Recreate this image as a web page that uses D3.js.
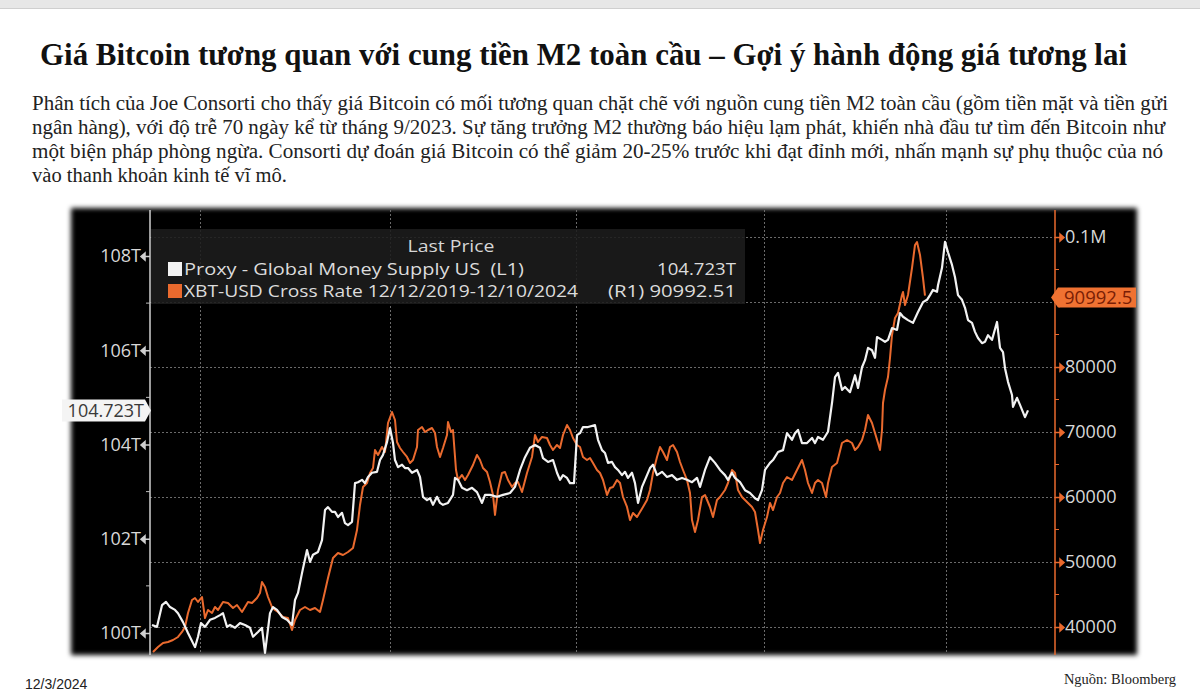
<!DOCTYPE html>
<html><head><meta charset="utf-8">
<script src="https://cdn.jsdelivr.net/npm/d3@7"></script>
<style>
html,body{margin:0;padding:0;background:#fff;}
svg{display:block;}
</style></head><body>
<svg id="c" width="1200" height="696"></svg>
<script>
// ---------- text ----------
const titleText = "Giá Bitcoin tương quan với cung tiền M2 toàn cầu – Gợi ý hành động giá tương lai";
const paragraphLines = [
  "Phân tích của Joe Consorti cho thấy giá Bitcoin có mối tương quan chặt chẽ với nguồn cung tiền M2 toàn cầu (gồm tiền mặt và tiền gửi",
  "ngân hàng), với độ trễ 70 ngày kể từ tháng 9/2023. Sự tăng trưởng M2 thường báo hiệu lạm phát, khiến nhà đầu tư tìm đến Bitcoin như",
  "một biện pháp phòng ngừa. Consorti dự đoán giá Bitcoin có thể giảm 20-25% trước khi đạt đỉnh mới, nhấn mạnh sự phụ thuộc của nó",
  "vào thanh khoản kinh tế vĩ mô."
];
const dateText = "12/3/2024";
const sourceText = "Nguồn: Bloomberg";
const legendTitle = "Last Price";
const seriesNames = ["Proxy - Global Money Supply US  (L1)", "XBT-USD Cross Rate 12/12/2019-12/10/2024"];
const seriesTags = ["", "(R1)"];

// ---------- axes ----------
const leftTicks = [100, 102, 104, 106, 108];
const leftMinor = [101, 103, 105, 107];
const rightTicks = [40000, 50000, 60000, 70000, 80000, 90000, 100000];
const rightLabelled = [40000, 50000, 60000, 70000, 80000, 100000];
const rightMinor = [45000, 55000, 65000, 75000, 85000, 95000];
const gridDays = [25, 120, 213, 307, 398];

// ---------- series: [day, value] ----------
const m2Series = [[1,100.17],[3.5,100.13],[6,100.59],[8,100.66],[10,100.55],[12.5,100.49],[14,100.42],[16.5,100.23],[19,100.00],[22.5,99.70],[24,99.92],[25.5,100.21],[27.5,100.13],[30,100.28],[32.5,100.32],[35,100.38],[36.5,100.42],[38.5,100.13],[40,100.17],[42.5,100.11],[45,100.21],[47.5,100.17],[50,100.11],[51.5,99.92],[54,100.02],[56,100.11],[57.5,99.58],[60,100.42],[61.5,100.55],[63.5,100.49],[66,100.34],[68.5,100.28],[71,100.17],[72.5,100.70],[74,100.85],[76,101.27],[78.5,101.76],[80,101.51],[81.5,101.66],[84,101.72],[86,101.97],[87.5,102.61],[89,102.67],[91,102.57],[92.5,102.57],[94,102.46],[96,102.55],[97.5,102.33],[99,102.29],[101,102.36],[102.5,103.18],[104,103.20],[106,103.25],[107.5,103.18],[109,103.31],[111,103.40],[113.5,103.42],[115,103.67],[116.5,103.78],[118.5,104.05],[120,104.35],[121.5,104.03],[122.5,103.67],[124,103.52],[126,103.57],[127.5,103.50],[129,103.50],[131,103.40],[133.5,103.46],[135,103.31],[136.5,102.89],[138.5,102.82],[140,102.86],[141.5,102.72],[143.5,102.89],[145,102.76],[146.5,102.72],[149,102.76],[151.5,102.93],[152.5,103.29],[154,103.25],[156,103.08],[158.5,103.03],[161,103.08],[163.5,102.99],[166,102.76],[167.5,102.93],[170,102.93],[173.5,102.89],[176.5,102.93],[180,102.97],[182.5,103.10],[185,103.46],[187.5,103.73],[190,103.93],[192.5,103.99],[195,103.93],[196.5,103.71],[199,103.63],[201.5,103.67],[203.5,103.40],[205,103.25],[206.5,103.35],[208.5,103.29],[210,103.18],[212,103.18],[213.5,104.20],[215,104.24],[216.5,104.37],[219,104.37],[222.5,104.41],[224,104.10],[226,103.88],[227.5,103.82],[229,103.61],[231,103.63],[232.5,103.52],[234,103.46],[236,103.35],[237.5,103.42],[239,103.29],[241,103.40],[242.5,103.18],[244,102.76],[246,103.10],[247.5,103.25],[250,103.50],[251.5,103.57],[253.5,103.35],[256,103.42],[258.5,103.31],[261,103.35],[263.5,103.25],[266,103.29],[268.5,103.25],[271,103.20],[273.5,103.29],[275,103.10],[277.5,103.46],[280,103.73],[282.5,103.61],[285,103.46],[287.5,103.35],[289,103.25],[291,103.40],[292.5,103.29],[295,103.20],[297.5,103.03],[300,102.97],[302.5,102.86],[304,102.82],[306,103.03],[307.5,103.46],[310,103.61],[311.5,103.67],[314,103.84],[316.5,103.88],[318.5,104.24],[321,104.10],[322.5,104.24],[324,104.31],[326,104.03],[328.5,104.03],[331,104.14],[332.5,104.03],[334,104.16],[336.5,104.10],[339,104.27],[341,104.88],[342.5,105.43],[344,105.52],[346,105.16],[347.5,105.22],[350,105.11],[352.5,105.47],[354,105.20],[356,105.64],[357.5,105.79],[359,106.05],[361,106.00],[362.5,105.84],[363.5,106.28],[366,106.22],[367.5,106.18],[369,106.22],[371,106.47],[373.5,106.43],[375,106.79],[376.5,106.71],[379,106.64],[381.5,106.58],[384,106.81],[386.5,107.02],[388.5,107.07],[390,107.17],[391.5,107.28],[393.5,107.24],[394,107.38],[396,107.75],[397.5,108.30],[399,108.08],[401,107.81],[402.5,107.55],[404,107.17],[406,107.07],[407.5,106.90],[409,106.64],[411,106.58],[412.5,106.39],[414,106.26],[416,106.15],[417.5,106.18],[419,106.32],[421,106.22],[423.5,106.60],[425,106.05],[426.5,105.96],[427.5,105.62],[429,105.33],[431,105.05],[431.5,104.80],[433.5,104.99],[435,104.84],[437.5,104.58],[439,104.723]];

const btcSeries = [[1.5,36154],[4,36923],[6.5,37538],[9,37692],[11.5,38000],[14,38462],[16,39231],[17.5,40000],[19,42154],[21,44154],[22.5,44462],[24,43846],[26,44615],[27.5,41385],[29,42615],[31,42154],[32.5,43077],[34,42615],[36.5,43846],[39,43692],[41.5,42923],[43.5,43385],[46,42308],[47.5,43077],[49,43846],[51,43692],[53.5,44462],[55,45231],[56,46923],[57.5,46154],[59,44615],[61,43077],[62.5,42615],[64,42308],[66.5,41538],[69,41385],[71,39538],[72.5,41077],[75,42615],[77.5,43077],[80,42615],[82.5,42923],[85,42308],[86.5,44154],[89,47538],[91.5,50615],[94,51385],[96.5,51077],[99,51538],[101.5,52154],[103.5,54923],[105,58769],[106.5,61538],[108.5,62154],[110,63692],[111.5,64462],[112.5,67231],[114,66462],[116,67692],[117.5,66923],[119,71385],[121,73077],[122.5,71846],[123.5,68462],[125,67538],[126.5,66923],[128.5,66154],[130,65231],[131.5,65692],[133.5,67692],[134,70308],[136,70769],[137.5,70000],[139,70308],[141,70615],[142.5,69846],[143.5,67692],[145,66154],[146.5,67538],[148.5,69538],[149,71538],[150.5,70000],[151.5,70308],[153,64154],[154,62615],[156,63385],[157.5,62615],[159,63385],[161.5,64923],[163.5,66462],[165,65692],[166.5,64462],[168.5,63846],[170,62308],[171.5,60308],[172.5,57231],[174,61077],[176,63692],[177.5,63846],[179,62615],[181,61538],[182.5,62154],[184,62308],[186,60769],[188.5,63692],[191,66154],[192.5,69538],[194,68462],[196,69231],[198.5,69077],[200,68000],[201.5,67231],[203.5,68000],[205,67538],[206.5,69538],[208.5,71077],[210,70308],[211.5,69077],[213.5,68000],[215,67692],[216.5,66154],[218.5,65692],[220,66000],[221.5,65231],[223.5,64154],[225,63692],[226.5,62615],[228.5,60308],[230,61385],[231.5,61538],[233.5,62615],[235,62154],[236.5,60000],[238.5,58462],[240,56462],[241.5,57538],[243.5,56923],[245,57692],[246.5,58462],[248.5,59538],[250,61077],[251.5,63692],[253.5,66154],[255,67692],[256.5,66923],[258.5,65692],[260,67692],[261.5,68000],[263.5,66923],[265,65385],[266.5,64154],[268.5,62615],[270,60615],[271,56462],[272.5,54615],[274,56462],[276,60000],[277.5,60308],[280,58462],[281.5,56923],[283.5,59538],[285,60000],[287.5,61077],[289,62154],[291,64154],[292.5,63692],[294,61077],[296,60000],[298.5,59231],[301,58462],[302.5,57692],[304,54923],[305,52923],[306.5,54923],[308.5,56923],[310,59077],[311.5,58000],[313.5,60000],[315,60615],[316.5,62154],[318.5,63077],[321,62615],[323.5,64154],[326,65692],[327.5,64154],[329,62154],[331,60615],[332.5,62154],[334,62615],[336,62154],[338,60000],[339,62154],[341,64615],[343.5,65231],[346,68308],[348.5,68769],[351,68308],[352.5,67231],[354,67692],[356,68769],[357.5,70308],[359,72615],[361,71385],[362.5,69846],[364,68308],[365,67231],[366,70308],[366.5,74462],[367.5,76462],[369,78462],[370,81385],[371,84923],[372.5,87538],[374,88308],[376,91077],[376.5,91538],[377.5,89538],[379,91077],[381,95231],[382.5,98769],[383.5,99231],[385,97231],[386.5,93692],[387.5,90992.51]];

const m2Last = 104.723;
const btcLast = 90992.51;

// ---------- drawing ----------
const svg = d3.select("#c");
const serif = "'Liberation Serif','Times New Roman',serif";
const sans = "'Open Sans','Noto Sans',sans-serif";
const WHITE = "#f2f2f2", ORANGE = "#ea6a2e";

// top browser strip
svg.append("rect").attr("x",0).attr("y",0).attr("width",1200).attr("height",8).attr("fill","#e7e7e7");
svg.append("line").attr("x1",0).attr("x2",1200).attr("y1",8.5).attr("y2",8.5).attr("stroke","#cfcfcf");

// title
svg.append("text").attr("x",40).attr("y",65)
  .attr("font-family",serif).attr("font-weight","bold").attr("font-size",31).attr("fill","#111")
  .attr("textLength",1087).attr("lengthAdjust","spacingAndGlyphs").text(titleText);

// paragraph
const paraWidths = [1136, 1133, 1131, 255];
paragraphLines.forEach((t,i)=>{
  svg.append("text").attr("x",32).attr("y",110 + i*24)
    .attr("font-family",serif).attr("font-size",20).attr("fill","#222")
    .attr("textLength",paraWidths[i]).attr("lengthAdjust","spacingAndGlyphs").text(t);
});

// chart panel (soft edges)
const defs = svg.append("defs");
defs.append("filter").attr("id","soft").attr("x","-5%").attr("y","-5%").attr("width","110%").attr("height","110%")
  .append("feGaussianBlur").attr("stdDeviation",2.6);
svg.append("rect").attr("x",71).attr("y",208).attr("width",1066).attr("height",447)
  .attr("fill","#000").attr("filter","url(#soft)");

const plot = {left:150, right:1055, top:210, bottom:655};
defs.append("clipPath").attr("id","plotclip").append("rect")
  .attr("x",plot.left).attr("y",plot.top).attr("width",plot.right-plot.left).attr("height",plot.bottom-plot.top);
defs.append("clipPath").attr("id","panelclip").append("rect")
  .attr("x",60).attr("y",200).attr("width",1076).attr("height",460);

const x = d3.scaleLinear().domain([0, 452.5]).range([plot.left, plot.right]);
const yL = d3.scaleLinear().domain([99.533, 108.976]).range([plot.bottom, plot.top]);
const yR = d3.scaleLinear().domain([35692, 104154]).range([plot.bottom, plot.top]);

// grid
const grid = svg.append("g").attr("stroke","#6a6a6a").attr("stroke-width",1).attr("stroke-dasharray","2,2");
rightTicks.forEach(v=>{
  grid.append("line").attr("x1",plot.left).attr("x2",plot.right)
    .attr("y1",Math.round(yR(v))+0.5).attr("y2",Math.round(yR(v))+0.5);
});
gridDays.forEach(d=>{
  grid.append("line").attr("y1",plot.top).attr("y2",plot.bottom)
    .attr("x1",Math.round(x(d))+0.5).attr("x2",Math.round(x(d))+0.5);
});

// legend box
const LFS = 17;
const lg = svg.append("g");
lg.append("rect").attr("x",151).attr("y",229).attr("width",594).attr("height",75).attr("fill","#1c1c1c").attr("opacity",0.88);
lg.append("text").attr("x",451).attr("y",252).attr("text-anchor","middle").attr("font-family",sans)
  .attr("font-size",LFS).attr("fill","#d6d6d6").attr("textLength",87).attr("lengthAdjust","spacingAndGlyphs").text(legendTitle);
const legendColors = [WHITE, ORANGE];
const legendVals = [m2Last.toFixed(3)+"T", btcLast.toFixed(2)];
const nameWidths = [340, 394];
const valWidths = [79, 128];
seriesNames.forEach((n,i)=>{
  const yy = 275 + i*22;
  lg.append("rect").attr("x",168).attr("y",yy-13).attr("width",14).attr("height",14).attr("fill",legendColors[i]);
  lg.append("text").attr("x",184).attr("y",yy).attr("font-family",sans).attr("font-size",LFS)
    .attr("fill","#dcdcdc").style("white-space","pre")
    .attr("textLength",nameWidths[i]).attr("lengthAdjust","spacingAndGlyphs").text(n);
  lg.append("text").attr("x",736).attr("y",yy).attr("text-anchor","end").attr("font-family",sans).attr("font-size",LFS)
    .attr("fill","#dcdcdc").style("white-space","pre")
    .attr("textLength",valWidths[i]).attr("lengthAdjust","spacingAndGlyphs")
    .text((seriesTags[i]? seriesTags[i]+" " : "") + legendVals[i]);
});

// lines
const lineL = d3.line().x(d=>x(d[0])).y(d=>yL(d[1])).curve(d3.curveLinear);
const lineR = d3.line().x(d=>x(d[0])).y(d=>yR(d[1])).curve(d3.curveLinear);
const lines = svg.append("g").attr("clip-path","url(#plotclip)");
lines.append("path").datum(btcSeries).attr("d",lineR).attr("fill","none")
  .attr("stroke",ORANGE).attr("stroke-width",2).attr("stroke-linejoin","round");
lines.append("path").datum(m2Series).attr("d",lineL).attr("fill","none")
  .attr("stroke",WHITE).attr("stroke-width",2.2).attr("stroke-linejoin","round");

// left axis
const axL = svg.append("g").attr("transform",`translate(${plot.left},0)`)
  .call(d3.axisLeft(yL).tickValues(leftTicks).tickFormat(d=>d+"T").tickSize(0).tickPadding(9));
axL.select(".domain").attr("stroke","#d0d0d0").attr("stroke-width",1.5).attr("d",`M0,${plot.top}V${plot.bottom}`);
axL.selectAll(".tick text").attr("font-family",sans).attr("font-size",18).attr("fill","#d8d8d8");
axL.selectAll(".tick").append("path").attr("d","M0,0H-5M-5,-3.5L-9,0L-5,3.5Z").attr("stroke","#d0d0d0").attr("fill","#d0d0d0").attr("stroke-width",1.5);
leftMinor.forEach(v=>{
  axL.append("line").attr("x1",-4).attr("x2",0).attr("y1",yL(v)).attr("y2",yL(v)).attr("stroke","#bdbdbd");
});

// right axis
const axR = svg.append("g").attr("transform",`translate(${plot.right},0)`)
  .call(d3.axisRight(yR).tickValues(rightTicks)
    .tickFormat(d=> rightLabelled.includes(d) ? (d>=100000 ? (d/1e6)+"M" : d) : "")
    .tickSize(0).tickPadding(10));
axR.select(".domain").attr("stroke",ORANGE).attr("stroke-width",1.5).attr("d",`M0,${plot.top}V${plot.bottom}`);
axR.selectAll(".tick text").attr("font-family",sans).attr("font-size",18).attr("fill","#d8d8d8");
axR.selectAll(".tick").append("path").attr("d","M0,0H5M5,-3.5L9,0L5,3.5Z").attr("stroke",ORANGE).attr("fill",ORANGE).attr("stroke-width",1.5);
rightMinor.forEach(v=>{
  axR.append("line").attr("x1",0).attr("x2",4).attr("y1",yR(v)).attr("y2",yR(v)).attr("stroke",ORANGE);
});

// last-value markers
const ly = yL(m2Last);
svg.append("path").attr("d",`M62,${ly-11}H145L151,${ly}L145,${ly+11}H62Z`).attr("fill","#f4f4f4");
svg.append("text").attr("x",144).attr("y",ly+6.5).attr("text-anchor","end").attr("font-family",sans)
  .attr("font-size",18).attr("fill","#3a3a3a").text(m2Last.toFixed(3)+"T");
const ry = yR(btcLast) + 2;
const mk = svg.append("g").attr("clip-path","url(#panelclip)");
mk.append("path").attr("d",`M1051,${ry}L1058,${ry-10}H1140V${ry+10}H1058Z`).attr("fill","#f07232");
mk.append("text").attr("x",1064).attr("y",ry+6.5).attr("font-family",sans)
  .attr("font-size",18.5).attr("fill","#7a1e05").text(btcLast.toFixed(1));

// footer
svg.append("text").attr("x",25).attr("y",689).attr("font-family","'Liberation Sans',Arial,sans-serif")
  .attr("font-size",14).attr("fill","#222").text(dateText);
svg.append("text").attr("x",1176).attr("y",684).attr("text-anchor","end").attr("font-family",serif)
  .attr("font-size",14.5).attr("fill","#222").text(sourceText);
</script>
</body></html>
